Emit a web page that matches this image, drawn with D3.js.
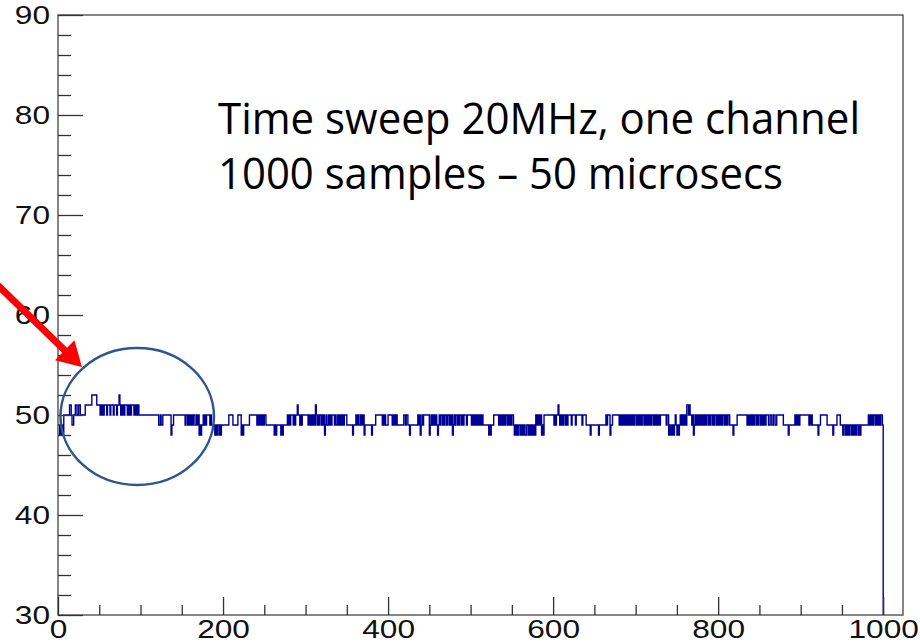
<!DOCTYPE html>
<html>
<head>
<meta charset="utf-8">
<script src="https://cdn.jsdelivr.net/npm/d3@7/dist/d3.min.js"></script>
<style>
  body { margin: 0; background: #fff; }
  svg { display: block; }
</style>
</head>
<body>
<svg class="sweep" width="920" height="644"></svg>
<script>
// samples, one character per bin: value = codeBase + digit
// (rows of 50 bins, spaces only group runs for readability)
let codeBase = 48;
let sampleCodes = [
  "11 01010 2222222 33 2112 2 33 22 33 222222 33333333 444444 333",
  "323232 33323332 3332333233 43 232323332323233 32323232 2",
  "2222222222222222222222 112112 222222222 0 11 2222222222",
  "2222122 12121212211212 0101 121212222121 111 0101101011",
  "11111112 2222 111111 2222 0101 111111 22222222 2121212121",
  "22 1111111111 0101 1111 010 11111 2121 2221212 23 22 1212 222",
  "222 121212121 3 2121221212 01 2112121222121 121212121 222",
  "1111111 01 11 2121121212 01 1111111 01 111 22222222 1212 111",
  "22222 121212 11111111 22122 11011 1111111 21201212 222222",
  "01 21212121 01 2122121221221212 01 212212122121 22212222",
  "21212121212121 21111111 0101 11 222222 1212121212212121",
  "221 01010110101010011010101010 2121212 010 22222222222",
  "212122 3 212121221212 222122221222 2222122221 1111 01 111",
  "11111 01 1111111 21222 01 1222222 2212121212121212121212",
  "2121212122 1212121212 2121212121 2222222122 0101010121",
  "010121 212121 33232 212 01 212121212121212 2121221212212",
  "121212212121221 111 0 1111 222222222222 121212121221212",
  "212121212 221122112211 22222222 111111 01 111111 2121212",
  "222222222 21212 1111111 0 11 22222222 1111111 0 1111 2222 11",
  "1011 01010110101010110101 11111111 212121221212121 221"
];

// axis ticks
let xMajor = [0, 200, 400, 600, 800, 1000];
let xMinor = [50, 100, 150, 250, 300, 350, 450, 500, 550, 650, 700, 750, 850, 900, 950];
let yMajor = [30, 40, 50, 60, 70, 80, 90];
let yMinor = [32, 34, 36, 38, 42, 44, 46, 48, 52, 54, 56, 58, 62, 64, 66, 68, 72, 74, 76, 78, 82, 84, 86, 88];

// annotation text
let noteLines = ["Time sweep 20MHz, one channel", "1000 samples \u2013 50 microsecs"];

let svg = d3.select('svg.sweep');

// frame of the pad
let frame = {left: 58, top: 15, right: 903, bottom: 615};

let x = d3.scaleLinear().domain([0, 1024]).range([frame.left, frame.right]);
let y = d3.scaleLinear().domain([30, 90]).range([frame.bottom, frame.top]);

// decode the bins
let values = sampleCodes.join('').replace(/ /g, '').split('').map(c => codeBase + (+c));

// histogram outline, dropping back to the axis after the last bin
let steps = values.map((v, i) => [i, v]);
steps.push([values.length, values[values.length - 1]]);
steps.push([values.length, 30]);

let histLine = d3.line()
  .x(d => x(d[0]))
  .y(d => y(d[1]))
  .curve(d3.curveStepAfter);

svg.append('path')
  .datum(steps)
  .attr('d', histLine)
  .attr('fill', 'none')
  .attr('stroke', '#000096')
  .attr('stroke-width', 1.4);

// frame box
svg.append('rect')
  .attr('x', frame.left)
  .attr('y', frame.top)
  .attr('width', frame.right - frame.left)
  .attr('height', frame.bottom - frame.top)
  .attr('fill', 'none')
  .attr('stroke', '#444')
  .attr('stroke-width', 1.3);

// stretch tick labels sideways like the original
function stretchLabels(sel){
  sel.selectAll('text')
    .attr('font-family', '"Liberation Sans", Arial, sans-serif')
    .attr('font-size', 26)
    .attr('fill', '#111')
    .attr('textLength', function(){ return this.textContent.length * 17.6; })
    .attr('lengthAdjust', 'spacingAndGlyphs');
}

// y axis: ticks point inward, labels outside
let yAxis = svg.append('g')
  .attr('transform', `translate(${frame.left},0)`)
  .call(d3.axisLeft(y).tickValues(yMajor).tickSize(-25).tickPadding(8).tickFormat(d3.format('d')));
svg.append('g')
  .attr('transform', `translate(${frame.left},0)`)
  .call(d3.axisLeft(y).tickValues(yMinor).tickSize(-13).tickFormat(''));

let xAxis = svg.append('g')
  .attr('transform', `translate(0,${frame.bottom})`)
  .call(d3.axisBottom(x).tickValues(xMajor).tickSize(-18).tickPadding(5).tickFormat(d3.format('d')));
svg.append('g')
  .attr('transform', `translate(0,${frame.bottom})`)
  .call(d3.axisBottom(x).tickValues(xMinor).tickSize(-10).tickFormat(''));

svg.selectAll('.domain').remove();
svg.selectAll('.tick line').attr('stroke', '#333').attr('stroke-width', 1.3);
stretchLabels(yAxis);
stretchLabels(xAxis);

// annotation text
svg.append('g')
  .selectAll('text')
  .data(noteLines)
  .join('text')
  .attr('x', 218)
  .attr('y', (d, i) => 134 + i * 55)
  .attr('font-family', '"Open Sans", "Noto Sans", sans-serif')
  .attr('font-size', 43)
  .attr('fill', '#000')
  .attr('textLength', (d, i) => i == 0 ? 642 : 565)
  .attr('lengthAdjust', 'spacingAndGlyphs')
  .text(d => d);

// circle around the first samples (data coordinates)
svg.append('ellipse')
  .attr('cx', x(96))
  .attr('cy', y(49.85))
  .attr('rx', x(93) - x(0))
  .attr('ry', y(30) - y(36.85))
  .attr('fill', 'none')
  .attr('stroke', '#2f5590')
  .attr('stroke-width', 2.5);

// red arrow pointing at the circle
let tail = [x(-82), y(63.7)];
let tip = [x(29), y(54.8)];
let len = Math.hypot(tip[0] - tail[0], tip[1] - tail[1]);
let ux = (tip[0] - tail[0]) / len, uy = (tip[1] - tail[1]) / len;
let headLen = 24, headHalf = 14;
let base = [tip[0] - headLen * ux, tip[1] - headLen * uy];

svg.append('line')
  .attr('x1', tail[0]).attr('y1', tail[1])
  .attr('x2', base[0] + ux * 2).attr('y2', base[1] + uy * 2)
  .attr('stroke', '#ff0000')
  .attr('stroke-width', 7);

svg.append('polygon')
  .attr('points', [
    tip,
    [base[0] - headHalf * uy, base[1] + headHalf * ux],
    [base[0] + headHalf * uy, base[1] - headHalf * ux]
  ].map(p => p.join(',')).join(' '))
  .attr('fill', '#ff0000');
</script>
</body>
</html>
